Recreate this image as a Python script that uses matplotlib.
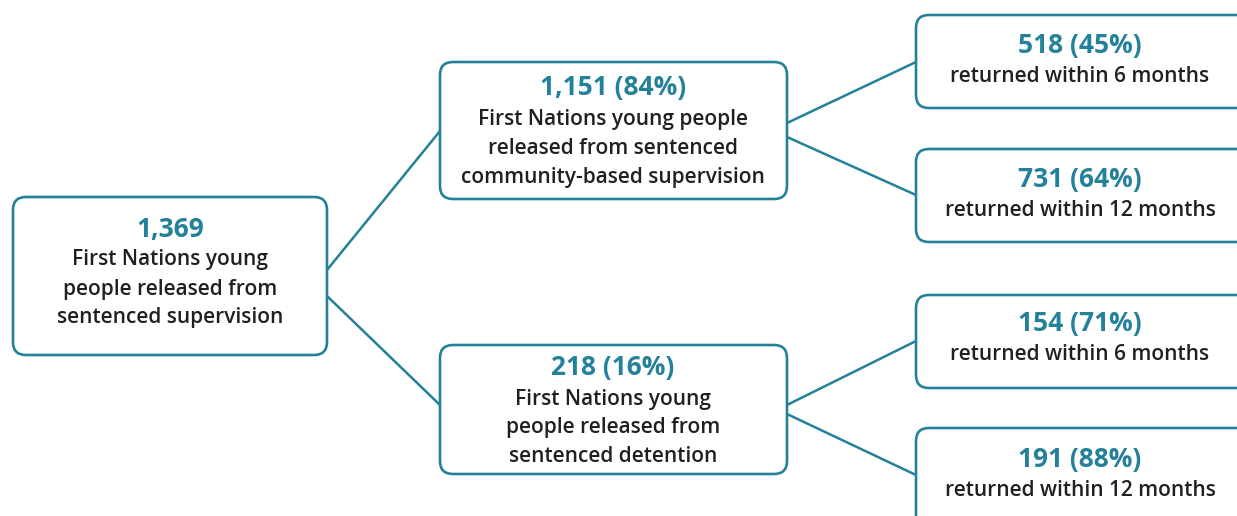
import matplotlib.pyplot as plt
from matplotlib.patches import FancyBboxPatch

# node data
counts = [1369, 1151, 218, 518, 731, 154, 191]
pcts = [None, 84, 16, 45, 64, 71, 88]
descriptions = [
    ["First Nations young", "people released from", "sentenced supervision"],
    ["First Nations young people", "released from sentenced", "community-based supervision"],
    ["First Nations young", "people released from", "sentenced detention"],
    ["returned within 6 months"],
    ["returned within 12 months"],
    ["returned within 6 months"],
    ["returned within 12 months"],
]
parents = [None, 0, 0, 1, 1, 2, 2]

# layout in pixels (x0, y0, x1, y1)
boxes = [
    (13, 197, 327, 355),
    (440, 62, 787, 199),
    (440, 345, 787, 474),
    (916, 15, 1250, 108),
    (916, 149, 1250, 242),
    (916, 295, 1250, 388),
    (916, 428, 1250, 530),
]
text_x = [170, 613, 613, 1080, 1080, 1080, 1080]
head_y = [229, 88, 368, 46, 179, 324, 460]
# connector anchor points: (start on parent, end on child)
links = {
    1: ((327, 270), (440, 131)),
    2: ((327, 296), (440, 405)),
    3: ((787, 123), (916, 62)),
    4: ((787, 137), (916, 195)),
    5: ((787, 405), (916, 341)),
    6: ((787, 414), (916, 475)),
}

teal = '#23819a'
dark = '#231f20'

plt.rcParams['font.family'] = ['Open Sans', 'DejaVu Sans']

fig = plt.figure(figsize=(12.37, 5.16), dpi=100)
ax = fig.add_axes([0, 0, 1, 1])
ax.set_xlim(0, 1237)
ax.set_ylim(516, 0)
ax.axis('off')

for i, (a, b) in links.items():
    ax.plot([a[0], b[0]], [a[1], b[1]], color=teal, lw=1.8, zorder=1)

for i in range(len(counts)):
    x0, y0, x1, y1 = boxes[i]
    ax.add_patch(FancyBboxPatch((x0, y0), x1 - x0, y1 - y0,
                                boxstyle='round,pad=0,rounding_size=13',
                                fc='white', ec=teal, lw=1.9, zorder=2))
    head = f'{counts[i]:,}'
    if pcts[i] is not None:
        head += f' ({pcts[i]}%)'
    ax.text(text_x[i], head_y[i], head, color=teal, fontsize=19,
            fontweight='bold', ha='center', va='center', zorder=3)
    for j, line in enumerate(descriptions[i]):
        ax.text(text_x[i], head_y[i] + 31 + 29 * j, line, color=dark,
                fontsize=15, fontweight='semibold', ha='center',
                va='center', zorder=3)

fig.savefig('out.png', dpi=100, facecolor='white')
